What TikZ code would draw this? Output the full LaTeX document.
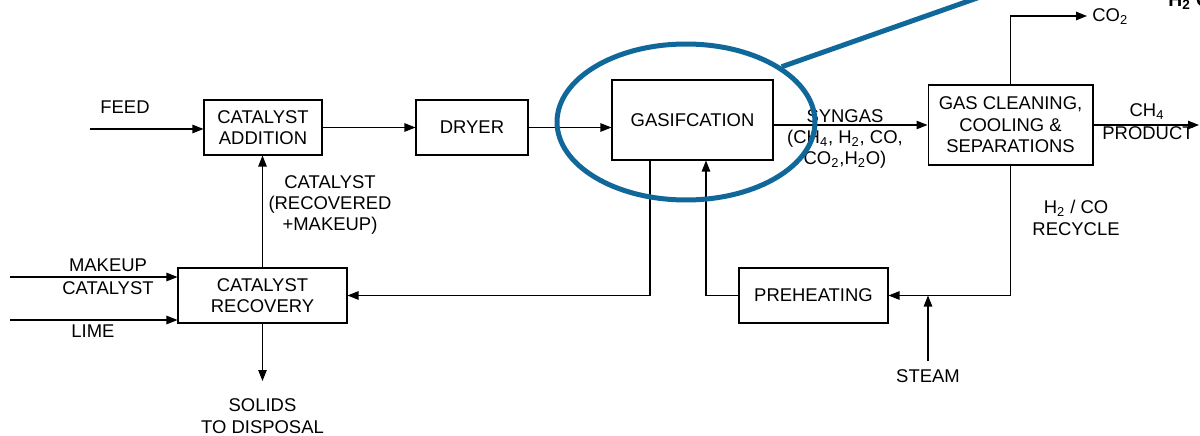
\documentclass[tikz,border=0pt]{standalone}
\usepackage{fontspec}
\setmainfont{Liberation Sans}
\usetikzlibrary{arrows.meta, positioning, calc, shapes.geometric}

\definecolor{ringblue}{HTML}{10679A}

\begin{document}
\begin{tikzpicture}[
        x=0.02cm, y=-0.02cm,
        font=\fontsize{10.5}{12.2}\selectfont,
        box/.style={rectangle, draw, line width=0.6pt, minimum height=1.1cm, align=center, inner sep=2pt},
        arrow/.style={-{Triangle[length=2.2mm, width=1.7mm]}, line width=0.6pt},
        lbl/.style={align=center, inner sep=0pt},
        ring/.style={ellipse, draw=ringblue, line width=1mm, inner sep=0pt}
    ]
    \useasboundingbox (0,0) rectangle (1200,436);

    % process blocks
    \node (addition) [box, minimum width=2.36cm] at (263,127.5) {CATALYST\\ADDITION};
    \node (dryer) [box, minimum width=2.24cm] at (472,127.5) {DRYER};
    \node (gasif) [box, minimum width=3.22cm, minimum height=1.6cm] at (692.5,120) {GASIFCATION};
    \node (cleaning) [box, minimum width=3.3cm, minimum height=1.6cm] at (1010.5,125) {GAS CLEANING,\\COOLING \&\\SEPARATIONS};
    \node (recovery) [box, minimum width=3.38cm] at (262.5,295.5) {CATALYST\\RECOVERY};
    \node (preheat) [box, minimum width=2.98cm] at (813.5,295.5) {PREHEATING};

    % stream ends
    \coordinate (feed) at (90,129);
    \coordinate (makeup) at (10,277);
    \coordinate (lime) at (10,320);
    \coordinate (solids) at (262.5,381);
    \coordinate (steam) at (928,361);
    \coordinate (co2) at (1087,16);
    \coordinate (product) at (1199,125);

    % streams
    \draw[arrow] (feed) -- (feed -| addition.west);
    \draw[arrow] (addition) -- (dryer);
    \draw[arrow] (dryer.east) -- (dryer.east -| gasif.west);
    \draw[arrow] (gasif.east |- cleaning.west) -- (cleaning.west);
    \draw[arrow] (cleaning.north) |- (co2);
    \draw[arrow] (cleaning.east) -- (product);
    \draw[arrow] (cleaning.south) |- (preheat.east);
    \draw[arrow] (steam) -- (steam |- preheat.east);
    \draw[arrow] (preheat.west) -| ([xshift=0.27cm]gasif.south);
    \draw[arrow] ([xshift=-0.85cm]gasif.south) |- (recovery.east);
    \draw[arrow] (recovery.north) -- (recovery.north |- addition.south);
    \draw[arrow] (makeup) -- (makeup -| recovery.west);
    \draw[arrow] (lime) -- (lime -| recovery.west);
    \draw[arrow] (recovery.south) -- (solids);

    % stream labels
    \node (feedlbl) [lbl] at (125,107) {FEED};
    \node (syngas) [lbl] at (845,139) {SYNGAS\\(CH\textsubscript{4}, H\textsubscript{2}, CO,\\CO\textsubscript{2},H\textsubscript{2}O)};
    \node (co2lbl) [lbl, anchor=west] at (1092,17) {CO\textsubscript{2}};
    \node (ch4lbl) [lbl] at (1147,112) {CH\textsubscript{4}};
    \node (productlbl) [lbl] at (1148,133) {PRODUCT};
    \node (recyclelbl) [lbl] at (1076,218) {H\textsubscript{2} / CO\\RECYCLE};
    \node (steamlbl) [lbl] at (928,376) {STEAM};
    \node (catlbl) [lbl] at (330,205) {CATALYST\\(RECOVERED\\+MAKEUP)};
    \node (makeuplbl) [lbl] at (108,265) {MAKEUP};
    \node (makeupcat) [lbl] at (108,288) {CATALYST};
    \node (limelbl) [lbl] at (93,331) {LIME};
    \node (solidslbl) [lbl] at (262.5,416) {SOLIDS\\TO DISPOSAL};
    \node (h2lbl) [lbl, anchor=base west, font=\bfseries\fontsize{11}{12}\selectfont] at (1168,7) {H\textsubscript{2} C};

    % highlight ring round the gasifier
    \node (highlight) [ring, minimum width=5.16cm, minimum height=3.12cm] at (686,122) {};
    \coordinate (callout) at (980,-3);
    \draw[ringblue, line width=1mm] (highlight.30) -- (callout);

\end{tikzpicture}
\end{document}
